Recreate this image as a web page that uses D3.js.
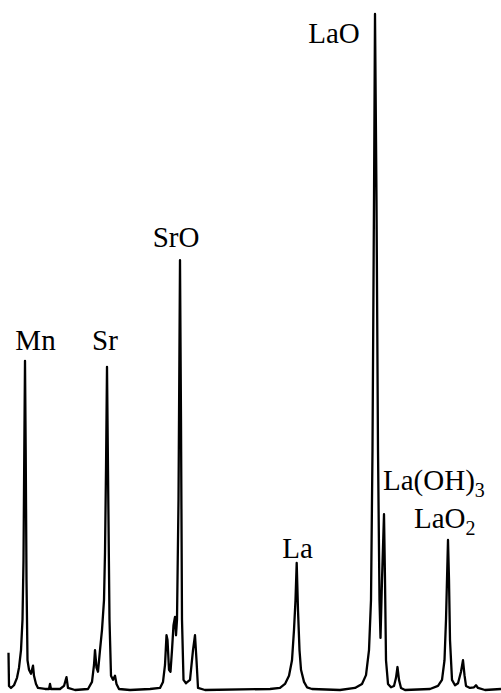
<!DOCTYPE html>
<meta charset="utf-8">
<style>
body { margin: 0; background: #fff; }
.trace { fill: none; stroke: #000; stroke-width: 2.3; stroke-linejoin: round; }
.label { font-family: "Times New Roman", Times, "Liberation Serif", "Nimbus Roman", "DejaVu Serif", "Noto Serif", serif; font-size: 29px; fill: #000; }
</style>
<body>
<svg width="501" height="693"></svg>
<script src="https://cdn.jsdelivr.net/npm/d3@7"></script>
<script>

// spectrum trace, channel vs relative intensity (LaO = 100)
var channel = [8.5, 9, 11, 14, 17, 19, 21, 22.5, 23.5, 24.3, 25, 25.7, 26.5, 27.5, 29, 31, 33, 34, 36, 38,
  45, 49, 50, 51, 60, 64, 66.5, 68, 75, 88, 92, 94, 95, 96.5, 98, 100, 102, 104, 105, 106,
  107, 108, 109.5, 111, 113, 115, 116.5, 119, 130, 150, 160, 163, 165, 166.5, 167.5, 169, 170.5, 172, 173.5, 175,
  176, 177, 178.5, 180, 181, 182, 183.5, 186, 190, 193, 195, 196.5, 198, 205, 270, 280, 285, 289, 292, 294,
  295.5, 296.7, 298, 299.5, 301, 304, 307, 312, 340, 355, 362, 366, 369, 371, 372.5, 374, 375, 376.5, 378, 379.5,
  380.5, 382, 384, 385, 386, 388, 391, 394, 396, 397.5, 399, 401, 405, 430, 438, 442, 444.5, 446, 447, 448,
  449, 450, 452, 455, 458, 461, 463, 464.5, 466, 470, 474, 476, 478, 485, 501];

var intensity = [5.5, 0.6, 0.3, 0.7, 1.8, 3.3, 5.9, 10.4, 19.2, 35.5, 48.7, 35.5, 16.3, 4.4, 3.0, 2.4, 3.6, 2.1, 0.9, 0.3,
  0.15, 0.15, 0.9, 0.15, 0.15, 0.6, 1.9, 0.3, 0, 0.15, 1.2, 3.7, 5.9, 3.3, 2.7, 5.9, 8.9, 13.3, 20.3, 32.5,
  47.8, 32.5, 10.4, 2.1, 1.5, 2.1, 0.9, 0.15, 0, 0.15, 0.3, 1.2, 3.7, 8.1, 7.4, 3.0, 2.7, 5.9, 9.6, 10.8,
  8.1, 10.4, 28.1, 63.6, 39.9, 10.4, 1.5, 1.0, 1.5, 5.9, 8.1, 4.4, 0.3, 0, 0.15, 0.3, 0.9, 2.1, 4.4, 8.9,
  13.3, 18.8, 11.8, 5.9, 3.0, 1.2, 0.4, 0.15, 0, 0.3, 0.9, 2.2, 5.9, 13.3, 35.5, 72.5, 100, 72.5, 35.5, 13.3,
  7.7, 16.3, 26.0, 16.3, 4.4, 0.9, 0.4, 0.6, 1.8, 3.4, 1.5, 0.3, 0, 0.15, 0.6, 1.5, 4.4, 10.4, 16.3, 22.2,
  16.3, 7.4, 1.5, 0.7, 1.0, 2.7, 4.4, 2.2, 0.6, 0.3, 0.4, 0.7, 0.3, 0, 0.15];

// peak labels: text, subscript, anchor channel, label level
var labelText = ["Mn", "Sr", "SrO", "La", "LaO", "La(OH)", "LaO"];
var labelSub = ["", "", "", "", "", "3", "2"];
var labelChannel = [35.5, 105, 176, 297.5, 334, 383, 414];
var labelLevel = [50.3, 50.3, 65.5, 19.5, 95.7, 29.6, 24.0];
var labelAnchor = ["middle", "middle", "middle", "middle", "middle", "start", "start"];

var svg = d3.select("svg"),
    width = +svg.attr("width"),
    height = +svg.attr("height");

var x = d3.scaleLinear()
    .domain([0, 501])
    .range([0, width]);

var y = d3.scaleLinear()
    .domain([0, 100])
    .range([690, 14]);

var pts = channel.map(function(c, i) { return [c, intensity[i]]; });

var line = d3.line()
    .x(function(d) { return x(d[0]); })
    .y(function(d) { return y(d[1]); });

svg.append("path")
    .datum(pts)
    .attr("class", "trace")
    .attr("d", line);

var labels = svg.selectAll(".label")
    .data(d3.range(labelText.length))
  .enter().append("text")
    .attr("class", "label")
    .attr("x", function(i) { return x(labelChannel[i]); })
    .attr("y", function(i) { return y(labelLevel[i]); })
    .attr("text-anchor", function(i) { return labelAnchor[i]; });

labels.append("tspan").text(function(i) { return labelText[i]; });

labels.filter(function(i) { return labelSub[i] !== ""; })
  .append("tspan")
    .attr("dy", 7)
    .attr("font-size", "20px")
    .text(function(i) { return labelSub[i]; });

</script>
</body>
